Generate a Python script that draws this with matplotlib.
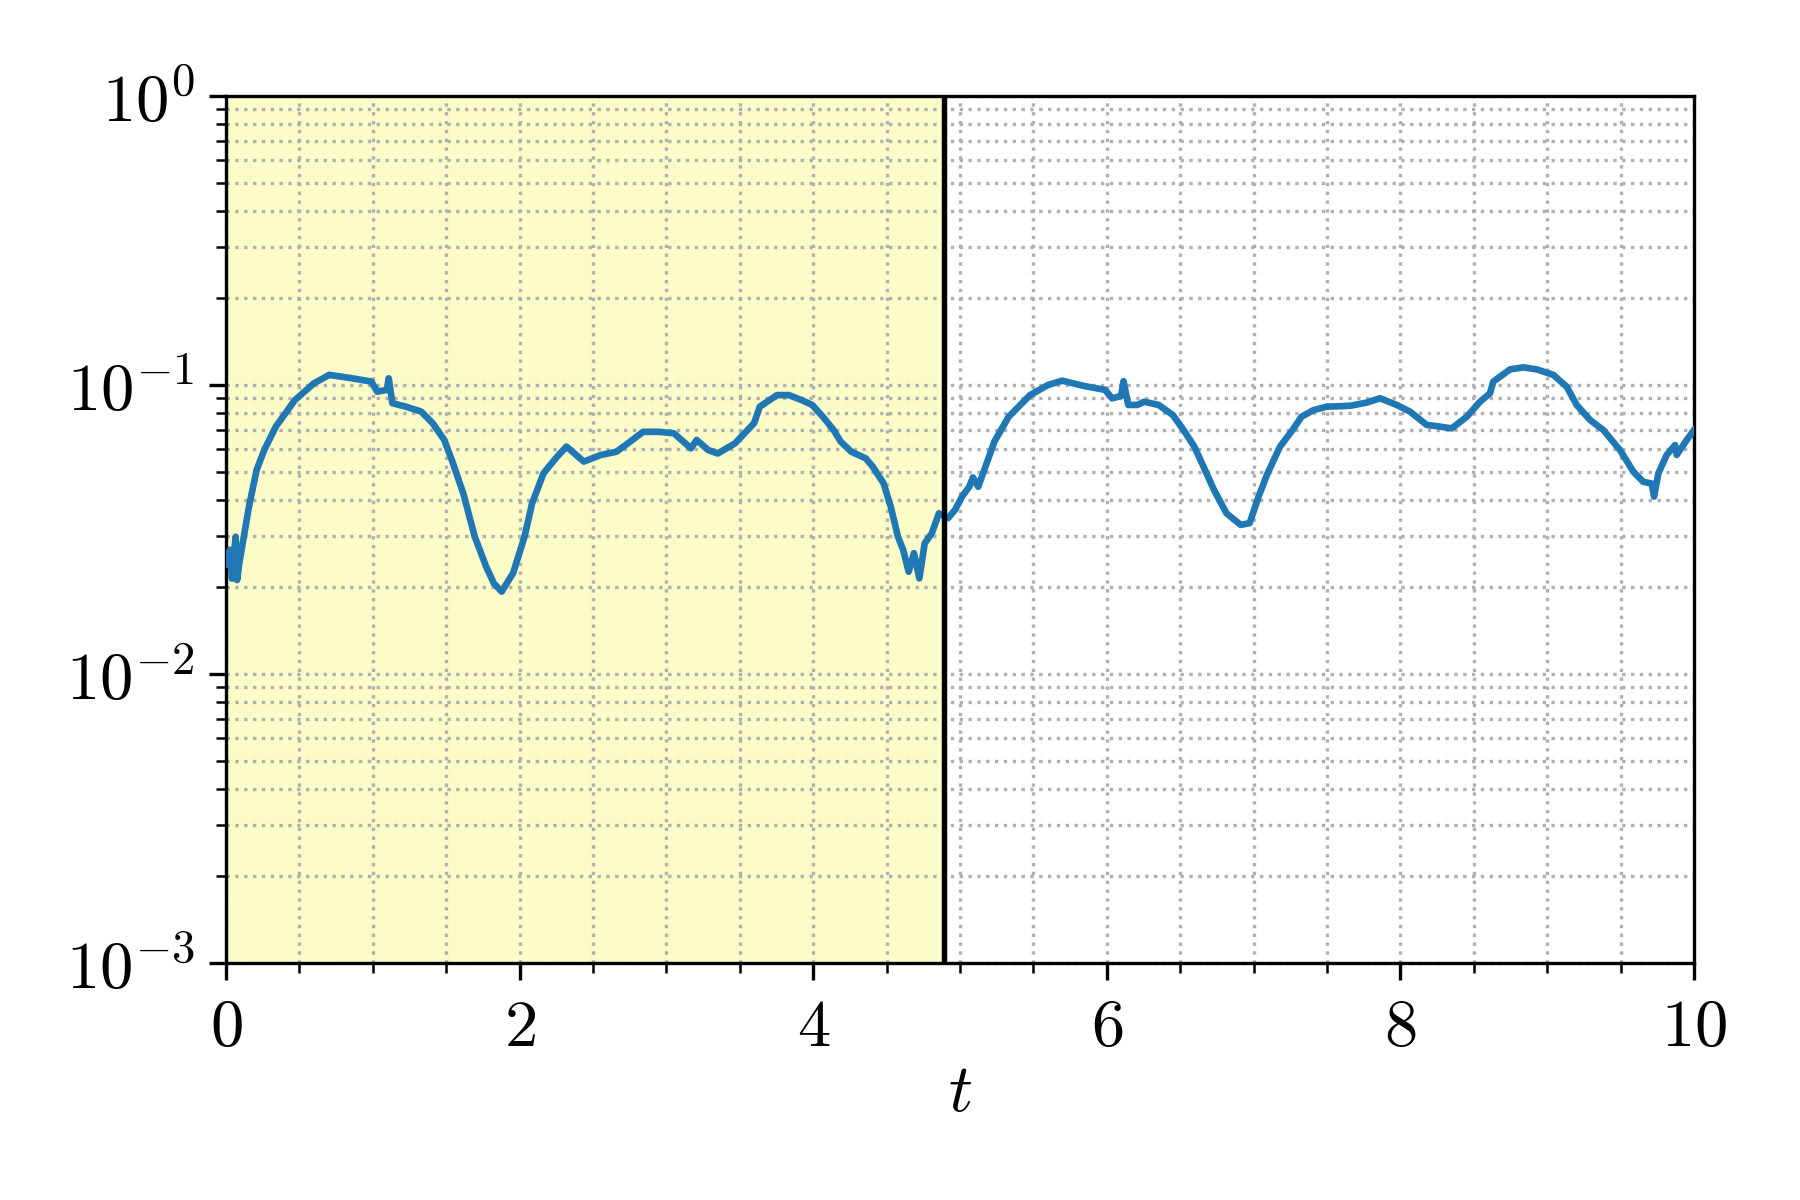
import numpy as np
import matplotlib
matplotlib.use('Agg')
import matplotlib.pyplot as plt
from matplotlib.ticker import MultipleLocator, LogLocator, FuncFormatter, NullFormatter

plt.rcParams['mathtext.fontset'] = 'cm'
plt.rcParams['font.family'] = 'serif'
plt.rcParams['font.serif'] = ['DejaVu Serif']
plt.rcParams['font.size'] = 16

# time samples and log10 of the plotted quantity
t = [0.0, 0.026, 0.04, 0.065, 0.075, 0.09, 0.156, 0.208, 0.26, 0.339,
     0.469, 0.599, 0.703, 0.86, 0.99, 1.029, 1.095, 1.108, 1.133, 1.225,
     1.329, 1.407, 1.486, 1.538, 1.616, 1.694, 1.772, 1.824, 1.877, 1.955,
     2.033, 2.085, 2.163, 2.255, 2.319, 2.437, 2.554, 2.659, 2.737, 2.841,
     2.945, 3.05, 3.167, 3.206, 3.284, 3.349, 3.467, 3.597, 3.636, 3.753,
     3.834, 3.92, 3.993, 4.066, 4.139, 4.187, 4.26, 4.358, 4.406, 4.479,
     4.528, 4.577, 4.613, 4.65, 4.686, 4.723, 4.759, 4.808, 4.856, 4.918,
     4.966, 5.014, 5.063, 5.088, 5.124, 5.173, 5.234, 5.331, 5.477, 5.599,
     5.696, 5.842, 5.988, 6.036, 6.097, 6.114, 6.146, 6.207, 6.255, 6.353,
     6.45, 6.523, 6.596, 6.669, 6.73, 6.815, 6.912, 6.973, 7.034, 7.095,
     7.18, 7.265, 7.326, 7.407, 7.498, 7.657, 7.77, 7.861, 7.975, 8.065,
     8.179, 8.27, 8.35, 8.452, 8.542, 8.61, 8.633, 8.747, 8.837, 8.929,
     9.042, 9.133, 9.201, 9.292, 9.383, 9.496, 9.587, 9.655, 9.712, 9.728,
     9.757, 9.814, 9.871, 9.882, 9.951, 10.0]
log_err = [-1.62, -1.57, -1.67, -1.525, -1.675, -1.616, -1.421, -1.294, -1.225, -1.144,
           -1.052, -0.994, -0.965, -0.977, -0.988, -1.023, -1.017, -0.977, -1.063, -1.075,
           -1.092, -1.132, -1.19, -1.26, -1.375, -1.525, -1.629, -1.686, -1.715, -1.651,
           -1.525, -1.409, -1.305, -1.248, -1.213, -1.265, -1.242, -1.231, -1.202, -1.162,
           -1.162, -1.167, -1.219, -1.19, -1.225, -1.237, -1.202, -1.132, -1.075, -1.035,
           -1.035, -1.052, -1.069, -1.11, -1.156, -1.196, -1.231, -1.254, -1.283, -1.34,
           -1.421, -1.525, -1.571, -1.646, -1.582, -1.669, -1.548, -1.513, -1.444, -1.461,
           -1.432, -1.386, -1.352, -1.32, -1.352, -1.283, -1.196, -1.11, -1.035, -1.0,
           -0.985, -1.003, -1.017, -1.046, -1.038, -0.987, -1.069, -1.069, -1.058, -1.069,
           -1.104, -1.156, -1.213, -1.294, -1.363, -1.444, -1.484, -1.478, -1.386, -1.306,
           -1.213, -1.156, -1.11, -1.087, -1.075, -1.072, -1.061, -1.046, -1.069, -1.092,
           -1.138, -1.144, -1.15, -1.11, -1.058, -1.029, -0.988, -0.946, -0.939, -0.946,
           -0.965, -1.006, -1.069, -1.121, -1.156, -1.225, -1.3, -1.335, -1.341, -1.386,
           -1.306, -1.242, -1.208, -1.242, -1.19, -1.156]
t_split = 4.888

fig = plt.figure(figsize=(6, 4), dpi=300)
ax = fig.add_axes([0.1256, 0.1975, 0.8155, 0.7225])

ax.axvspan(0, t_split, color='#fcfcc8', lw=0, zorder=0)
ax.plot(t, 10 ** np.array(log_err), color='#1f77b4', lw=1.6, zorder=3)
ax.axvline(t_split, color='black', lw=1.3, zorder=4)

ax.set_yscale('log')
ax.set_xlim(0, 10)
ax.set_ylim(1e-3, 1e0)

ax.xaxis.set_major_locator(MultipleLocator(2))
ax.xaxis.set_minor_locator(MultipleLocator(0.5))
ax.xaxis.set_major_formatter(FuncFormatter(lambda v, p: r'$%d$' % round(v)))
ax.yaxis.set_major_locator(LogLocator(base=10, numticks=10))
ax.yaxis.set_minor_locator(LogLocator(base=10, subs=np.arange(2, 10), numticks=10))
ax.yaxis.set_major_formatter(FuncFormatter(lambda v, p: r'$10^{%d}$' % round(np.log10(v))))
ax.yaxis.set_minor_formatter(NullFormatter())

ax.grid(True, which='both', linestyle=':', color='#b0b0b0', lw=0.8, zorder=1)
ax.set_axisbelow(True)
ax.tick_params(which='major', length=4, width=0.8)
ax.tick_params(which='minor', length=2.5, width=0.6)

ax.set_xlabel(r'$t$', labelpad=0)

fig.savefig('out.png', dpi=300)
